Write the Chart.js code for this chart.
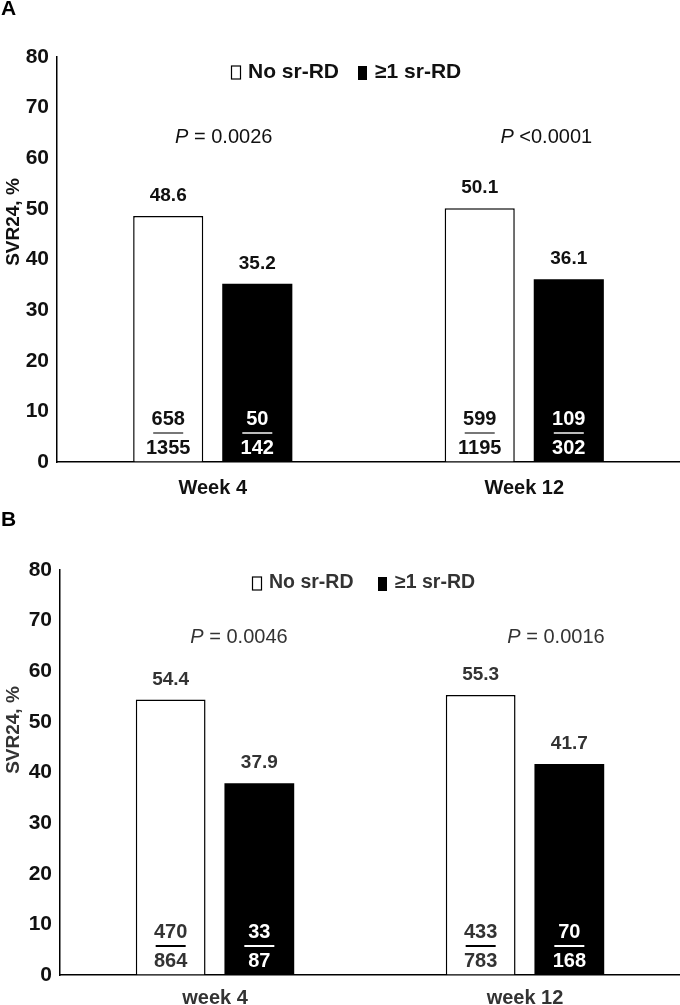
<!DOCTYPE html>
<html>
<head>
<meta charset="utf-8">
<script src="https://cdn.jsdelivr.net/npm/chart.js@4.4.0/dist/chart.umd.min.js"></script>
<style>
  html, body { margin: 0; padding: 0; background: #fff; }
  body { width: 680px; height: 1005px; position: relative; overflow: hidden; }
  .panel { position: absolute; left: 0; width: 680px; }
  #wrapA { top: 0; height: 500px; }
  #wrapB { top: 500px; height: 505px; }
</style>
</head>
<body>
<div class="panel" id="wrapA"><canvas id="chartA" width="680" height="500"></canvas></div>
<div class="panel" id="wrapB"><canvas id="chartB" width="680" height="505"></canvas></div>
<script>
/* ---- data ---- */
const seriesNames = ['No sr-RD', '\u22651 sr-RD'];
const yTicks = [0, 10, 20, 30, 40, 50, 60, 70, 80];

// panel A
const labelsA      = ['Week 4', 'Week 12'];
const noRdA        = [48.6, 50.1];
const anyRdA       = [35.2, 36.1];
const noRdNumA     = [658, 599];
const noRdDenA     = [1355, 1195];
const anyRdNumA    = [50, 109];
const anyRdDenA    = [142, 302];
const pValuesA     = ['= 0.0026', '<0.0001'];

// panel B
const labelsB      = ['week 4', 'week 12'];
const noRdB        = [54.4, 55.3];
const anyRdB       = [37.9, 41.7];
const noRdNumB     = [470, 433];
const noRdDenB     = [864, 783];
const anyRdNumB    = [33, 70];
const anyRdDenB    = [87, 168];
const pValuesB     = ['= 0.0046', '= 0.0016'];

const FONT = "'Liberation Sans', Arial, sans-serif";

/* ---- annotation plugin: legend, P values, bar labels, fractions ---- */
const annotate = {
  id: 'annotate',
  afterDraw(chart, args, o) {
    const ctx = chart.ctx;
    const area = chart.chartArea;
    const xs = chart.scales.x;
    const base = chart.scales.y.getPixelForValue(0);
    ctx.save();

    // panel letter
    ctx.fillStyle = '#000';
    ctx.font = 'bold 21px ' + FONT;
    ctx.textAlign = 'left';
    ctx.textBaseline = 'middle';
    ctx.fillText(o.letter, 1, o.letterY);

    // y axis title
    ctx.save();
    ctx.translate(14, o.titleY);
    ctx.rotate(-Math.PI / 2);
    ctx.textAlign = 'center';
    ctx.fillStyle = o.textColor;
    ctx.font = 'bold 19px ' + FONT;
    ctx.fillText('SVR24, %', 0, 0);
    ctx.restore();

    // legend
    const ly = area.top + o.legendDy;
    ctx.font = 'bold ' + o.legendSize + 'px ' + FONT;
    ctx.textAlign = 'left';
    ctx.fillStyle = o.textColor;
    ctx.lineWidth = 1.2;
    ctx.strokeStyle = '#000';
    ctx.strokeRect(o.legendX[0] + 0.5, ly - 6, 9, 13);
    ctx.fillText(seriesNames[0], o.legendX[0] + 17, ly);
    ctx.fillStyle = '#000';
    ctx.fillRect(o.legendX[1], ly - 6, 9, 14);
    ctx.fillStyle = o.textColor;
    ctx.fillText(seriesNames[1], o.legendX[1] + 17, ly);

    // P values
    const py = area.top + o.pDy;
    o.pValues.forEach((txt, i) => {
      const cx = xs.getPixelForValue(i) + o.pShift[i];
      ctx.font = 'italic 20px ' + FONT;
      const w1 = ctx.measureText('P').width;
      ctx.font = '20px ' + FONT;
      const rest = ' ' + txt;
      const w2 = ctx.measureText(rest).width;
      const x0 = cx - (w1 + w2) / 2;
      ctx.fillStyle = o.textColor;
      ctx.font = 'italic 20px ' + FONT;
      ctx.fillText('P', x0, py);
      ctx.font = '20px ' + FONT;
      ctx.fillText(rest, x0 + w1, py);
    });

    // bar value labels + fractions
    ctx.textAlign = 'center';
    chart.data.datasets.forEach((ds, di) => {
      const meta = chart.getDatasetMeta(di);
      meta.data.forEach((bar, j) => {
        ctx.font = 'bold 19px ' + FONT;
        ctx.fillStyle = o.textColor;
        ctx.textBaseline = 'alphabetic';
        ctx.fillText(ds.data[j].toFixed(1), bar.x, bar.y - 15);

        ctx.font = 'bold 20px ' + FONT;
        ctx.textBaseline = 'middle';
        ctx.fillStyle = di === 0 ? o.textColor : '#fff';
        ctx.fillText(String(ds.nums[j]), bar.x, base - 43);
        ctx.fillText(String(ds.dens[j]), bar.x, base - 14);
        ctx.strokeStyle = di === 0 ? o.ruleColor : (o.ruleColor === '#000' ? '#fff' : '#bbb');
        ctx.lineWidth = 2;
        ctx.beginPath();
        ctx.moveTo(bar.x - 15, base - 29);
        ctx.lineTo(bar.x + 15, base - 29);
        ctx.stroke();
      });
    });
    ctx.restore();
  }
};

function buildChart(canvasId, cfg) {
  return new Chart(document.getElementById(canvasId), {
    type: 'bar',
    data: {
      labels: cfg.labels,
      datasets: [
        {
          label: seriesNames[0],
          data: cfg.noRd,
          nums: cfg.noRdNum,
          dens: cfg.noRdDen,
          backgroundColor: '#fff',
          borderColor: '#000',
          borderWidth: 1.5,
          categoryPercentage: 0.572,
          barPercentage: 0.787
        },
        {
          label: seriesNames[1],
          data: cfg.anyRd,
          nums: cfg.anyRdNum,
          dens: cfg.anyRdDen,
          backgroundColor: '#000',
          borderColor: '#000',
          borderWidth: 0,
          categoryPercentage: 0.572,
          barPercentage: 0.787
        }
      ]
    },
    options: {
      responsive: false,
      animation: false,
      layout: { padding: { top: cfg.top, left: 0, right: 0, bottom: 0 } },
      plugins: {
        legend: { display: false },
        tooltip: { enabled: false },
        annotate: cfg.ann
      },
      scales: {
        x: {
          grid: { drawOnChartArea: false, drawTicks: false },
          border: { color: '#000', width: 1.5 },
          ticks: { color: cfg.ann.textColor, padding: cfg.xPad, font: { family: FONT, size: 20, weight: 'bold' } },
          afterFit: s => { s.height = cfg.xHeight; }
        },
        y: {
          min: 0,
          max: 80,
          afterBuildTicks: s => { s.ticks = yTicks.map(v => ({ value: v })); },
          grid: { drawOnChartArea: false, drawTicks: false },
          border: { color: '#000', width: 1.5 },
          ticks: { color: '#111', padding: 8, font: { family: FONT, size: 21, weight: 'bold' } },
          afterFit: s => { s.width = cfg.yWidth; }
        }
      }
    },
    plugins: [annotate]
  });
}

buildChart('chartA', {
  labels: labelsA, noRd: noRdA, anyRd: anyRdA,
  noRdNum: noRdNumA, noRdDen: noRdDenA, anyRdNum: anyRdNumA, anyRdDen: anyRdDenA,
  top: 57, xHeight: 38, yWidth: 57, xPad: 14,
  ann: {
    letter: 'A', letterY: 9, titleY: 222, textColor: '#111', ruleColor: '#777', legendSize: 21,
    legendX: [231, 358], legendDy: 15, pDy: 80, pShift: [11, 22], pValues: pValuesA
  }
});

buildChart('chartB', {
  labels: labelsB, noRd: noRdB, anyRd: anyRdB,
  noRdNum: noRdNumB, noRdDen: noRdDenB, anyRdNum: anyRdNumB, anyRdDen: anyRdDenB,
  top: 70, xHeight: 30, yWidth: 60, xPad: 11,
  ann: {
    letter: 'B', letterY: 20, titleY: 230, textColor: '#333', ruleColor: '#000', legendSize: 19.5,
    legendX: [252, 378], legendDy: 13, pDy: 67, pShift: [24, 31], pValues: pValuesB
  }
});
</script>
</body>
</html>
